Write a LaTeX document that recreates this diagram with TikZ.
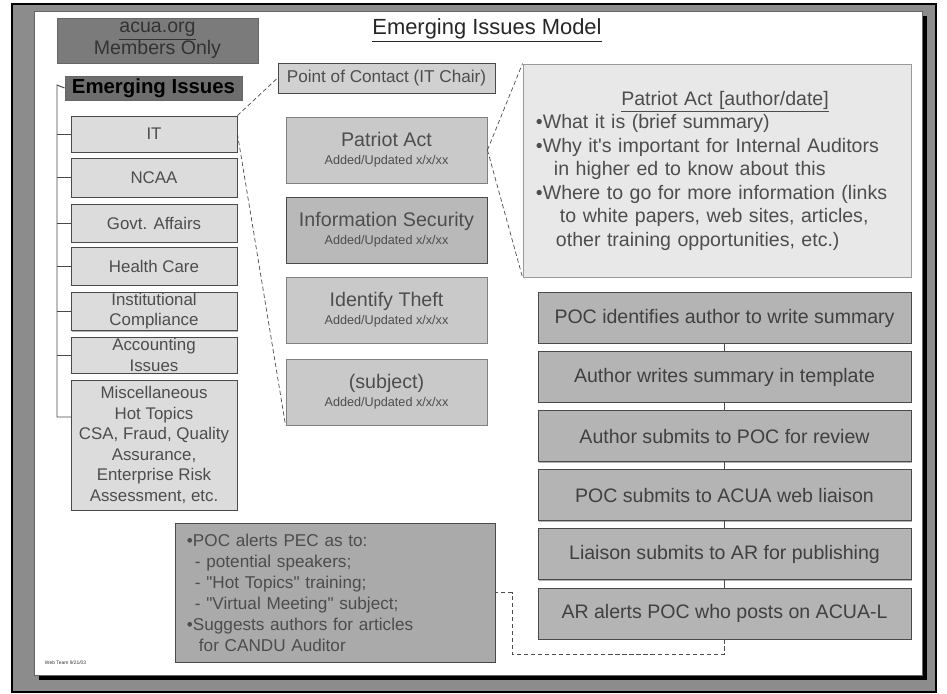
\documentclass[tikz,border=0pt]{standalone}
\usepackage{fontspec}
\setmainfont{Liberation Sans}[Ligatures=TeXOff]
\usetikzlibrary{shadows}

\definecolor{framegray}{HTML}{8C8C8C}
\definecolor{linegray}{HTML}{4A4A4A}
\definecolor{txtgray}{HTML}{4D4D4D}
\definecolor{leftfill}{HTML}{DCDCDC}
\definecolor{midfill}{HTML}{C9C9C9}
\definecolor{notefill}{HTML}{E8E8E8}
\definecolor{flowfill}{HTML}{B4B4B4}
\definecolor{alertfill}{HTML}{AAAAAA}
\definecolor{acuafill}{HTML}{7B7B7B}
\definecolor{eifill}{HTML}{6E6E6E}

\begin{document}
\begin{tikzpicture}[x=0.025cm, y=-0.025cm,
  box/.style={draw=linegray, line width=0.6pt, inner sep=1pt, align=center, text=txtgray,
    drop shadow={shadow xshift=0.6pt, shadow yshift=-0.6pt, fill=black!60}},
  topicbox/.style={box, fill=leftfill, minimum width=4.15cm, minimum height=0.95cm,
    font=\fontsize{12}{14.4}\selectfont},
  subjbox/.style={box, fill=midfill, draw=gray, minimum width=5.025cm, minimum height=1.65cm,
    font=\fontsize{14}{13}\selectfont},
  stepbox/.style={box, fill=flowfill, minimum width=9.325cm, minimum height=1.275cm,
    text=black!75, font=\fontsize{13.9}{16}\selectfont},
  link/.style={densely dashed, line width=0.5pt, draw=black!70},
  bkline/.style={line width=0.7pt, draw=linegray}]

\useasboundingbox (0,0) rectangle (947,694);
\fill[framegray, draw=black, line width=1.5pt] (12,4) rectangle (936,692);
\fill[black] (39,16) rectangle (927,680);
\fill[white, draw=black!60, line width=0.4pt] (34,11) rectangle (922,675);

\node[font=\fontsize{15.6}{18}\selectfont, text=black!85] (title) at (487,30) {\underline{Emerging Issues Model}};

\node[box, fill=acuafill, draw=black!60, minimum width=5.025cm, minimum height=1.125cm,
  text=black!80, font=\fontsize{13.9}{15.6}\selectfont] (acua) at (157.5,40.5) {\underline{acua.org}\\Members Only};
\node[box, fill=eifill, draw=black!60, minimum width=4.425cm, minimum height=0.6cm,
  text=black, font=\bfseries\fontsize{14.5}{16}\selectfont] (ei) at (153.5,88) {Emerging Issues};

\node[topicbox, minimum height=0.9cm] (it) at (154,134) {IT};
\node[topicbox, minimum height=0.975cm] (ncaa) at (154,177.5) {NCAA};
\node[topicbox] (govt) at (154,223) {Govt. Affairs};
\node[topicbox] (health) at (154,266) {Health Care};
\node[topicbox, minimum height=0.925cm] (inst) at (154,311.5) {Institutional\\Compliance};
\node[topicbox, minimum height=0.9cm] (acct) at (154,355) {Accounting\\Issues};
\node[topicbox, minimum height=3.25cm, font=\fontsize{12}{14.6}\selectfont] (misc) at (154,445)
  {Miscellaneous\\Hot Topics\\CSA, Fraud, Quality\\Assurance,\\Enterprise Risk\\Assessment, etc.};

\coordinate (bk) at (57,85);
\coordinate (mt) at (71,417);
\draw[bkline] (ei.west) -- (bk) -- (bk |- mt) -- (mt);
\foreach \n in {it,ncaa,govt,health,inst,acct}
  \draw[bkline] (bk |- \n.west) -- (\n.west);

\node[box, fill=leftfill!95!black, minimum width=5.425cm, minimum height=0.75cm,
  font=\fontsize{12.2}{14}\selectfont] (chair) at (386.5,78) {Point of Contact (IT Chair)};

\node[subjbox] (patriot) at (386.5,150) {Patriot Act\\{\fontsize{9}{10}\selectfont Added/Updated x/x/xx}};
\node[subjbox, fill=midfill!92!black, draw=linegray] (infosec) at (386.5,230) {Information Security\\{\fontsize{9}{10}\selectfont Added/Updated x/x/xx}};
\node[subjbox] (theft) at (386.5,310) {Identify Theft\\{\fontsize{9}{10}\selectfont Added/Updated x/x/xx}};
\node[subjbox] (subject) at (386.5,392) {(subject)\\{\fontsize{9}{10}\selectfont Added/Updated x/x/xx}};

\node[box, fill=notefill, draw=black!40, minimum width=9.7cm, minimum height=5.325cm,
  inner xsep=0.325cm, text width=9.05cm, align=left, font=\fontsize{13.9}{16.7}\selectfont] (note) at (717,170.5)
  {\makebox[\linewidth]{\hspace*{0.4cm}\underline{Patriot Act [author/date]}}\\
   •What it is (brief summary)\\
   •Why it's important for Internal Auditors\\
   \hspace*{0.45cm}in higher ed to know about this\\
   •Where to go for more information (links\\
   \hspace*{0.6cm}to white papers, web sites, articles,\\
   \hspace*{0.5cm}other training opportunities, etc.)};

\draw[link] (it.north east) -- (chair.west);
\draw[link] (it.east) -- (subject.south west);
\draw[link] (patriot.east) -- (note.north west);
\draw[link] (patriot.east) -- (note.south west);

\foreach \i/\t in {1/POC identifies author to write summary,
                   2/Author writes summary in template,
                   3/Author submits to POC for review,
                   4/POC submits to ACUA web liaison,
                   5/Liaison submits to AR for publishing,
                   6/AR alerts POC who posts on ACUA-L}
  \node[stepbox] (f\i) at (724.5,{318+59.1*(\i-1)}) {\t};
\foreach \i [evaluate=\i as \j using int(\i+1)] in {1,...,5}
  \draw[bkline] (f\i.south) -- (f\j.north);

\node[box, fill=alertfill, minimum width=8cm, minimum height=3.475cm, inner xsep=0.3cm,
  text width=7.4cm, align=left, text=black!70, font=\fontsize{12.2}{14.9}\selectfont] (alerts) at (335,592.5)
  {•POC alerts PEC as to:\\
   \hspace*{0.2cm}- potential speakers;\\
   \hspace*{0.2cm}- "Hot Topics" training;\\
   \hspace*{0.2cm}- "Virtual Meeting" subject;\\
   •Suggests authors for articles\\
   \hspace*{0.3cm}for CANDU Auditor};

\coordinate (dl) at (512,654);
\draw[link] (f6.south) |- (dl) |- (alerts.east);

\node[font=\fontsize{3.5}{4}\selectfont, text=black!80, anchor=west] (foot) at (40,663) {Web Team 9/21/03};
\end{tikzpicture}
\end{document}
